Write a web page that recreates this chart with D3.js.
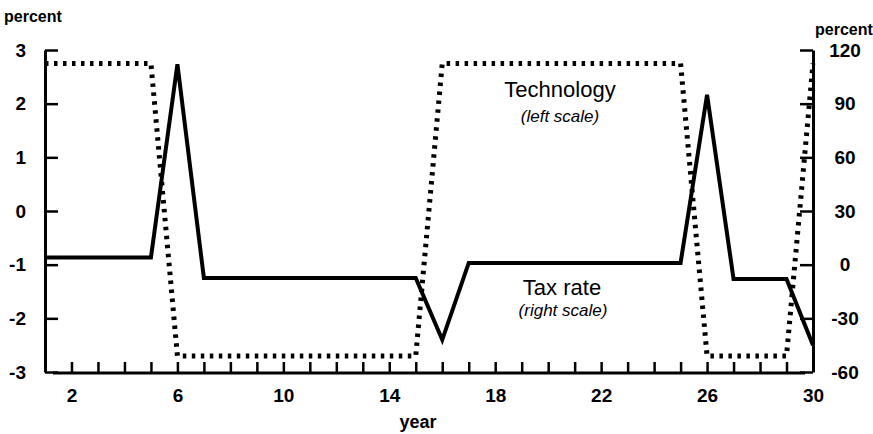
<!DOCTYPE html>
<html>
<head>
<meta charset="utf-8">
<script src="https://cdn.jsdelivr.net/npm/d3@7"></script>
<style>
  body { margin: 0; background: #fff; }
  text { font-family: "Liberation Sans", Arial, sans-serif; fill: #000; }
</style>
</head>
<body>
<svg></svg>
<script>
// Data
const years = [1, 2, 3, 4, 5, 6, 7, 8, 9, 10, 11, 12, 13, 14, 15,
  16, 17, 18, 19, 20, 21, 22, 23, 24, 25, 26, 27, 28, 29, 30];
// technology shock, percent (left scale)
const technology = [2.75, 2.75, 2.75, 2.75, 2.75,
  -2.7, -2.7, -2.7, -2.7, -2.7, -2.7, -2.7, -2.7, -2.7, -2.7,
  2.75, 2.75, 2.75, 2.75, 2.75, 2.75, 2.75, 2.75, 2.75, 2.75,
  -2.7, -2.7, -2.7, -2.7, 2.75];
// tax rate, percent (right scale)
const taxRate = [4, 4, 4, 4, 4, 112,
  -7.5, -7.5, -7.5, -7.5, -7.5, -7.5, -7.5, -7.5, -7.5,
  -42, 1, 1, 1, 1, 1, 1, 1, 1, 1, 95, -8, -8, -8, -45];
const leftTicks = [-3, -2, -1, 0, 1, 2, 3];
const rightTicks = [-60, -30, 0, 30, 60, 90, 120];
const yearTicks = [2, 3, 4, 5, 6, 7, 8, 9, 10, 11, 12, 13, 14, 15,
  16, 17, 18, 19, 20, 21, 22, 23, 24, 25, 26, 27, 28, 29];
const yearLabels = [2, 6, 10, 14, 18, 22, 26, 30];

function chart() {
  const width = 873;
  const height = 434;

  const svg = d3.select('svg')
    .attr('width', width)
    .attr('height', height);

  // plain hyphen for negatives, like the original
  const fmt = function (d) { return String(d); };

  // Scales
  const x = d3.scaleLinear().domain([1, 30]).range([45, 813]);
  const yL = d3.scaleLinear().domain([-3, 3]).range([372, 50]);
  const yR = d3.scaleLinear().domain([-60, 120]).range([372, 50]);

  // Left axis, ticks point inward
  const left = svg.append('g')
    .attr('transform', `translate(${x(1)},0)`)
    .call(d3.axisLeft(yL).tickValues(leftTicks).tickFormat(fmt)
      .tickSize(-13).tickSizeOuter(0).tickPadding(19));

  // Right axis
  const right = svg.append('g')
    .attr('transform', `translate(${x(30)},0)`)
    .call(d3.axisRight(yR).tickValues(rightTicks).tickFormat(fmt)
      .tickSize(-13).tickSizeOuter(0).tickPadding(32));
  right.selectAll('text').attr('text-anchor', 'middle');

  // Bottom axis: small ticks every year, labels every 4 years
  const bottom = svg.append('g')
    .attr('transform', `translate(0,${yL(-3) + 1})`)
    .call(d3.axisBottom(x).tickValues(yearTicks).tickSize(-11).tickSizeOuter(0).tickFormat(''));
  bottom.select('.domain').attr('d', `M${x(1) + 8},0H${x(29.7)}`);

  const bottomLabels = svg.append('g')
    .attr('transform', `translate(0,${yL(-3) + 1})`)
    .call(d3.axisBottom(x).tickValues(yearLabels).tickFormat(fmt).tickSize(0).tickPadding(16));
  bottomLabels.select('.domain').remove();

  [left, right, bottom, bottomLabels].forEach(function (g) {
    g.selectAll('.domain').attr('stroke', '#000').attr('stroke-width', 3);
    g.selectAll('.tick line').attr('stroke', '#000').attr('stroke-width', 2.5);
    g.selectAll('text')
      .style('font-size', '19px')
      .style('font-weight', 'bold')
      .attr('fill', '#000');
  });

  // Lines
  const techLine = d3.line()
    .x(function (d, i) { return x(years[i]); })
    .y(function (d) { return yL(d); });
  const taxLine = d3.line()
    .x(function (d, i) { return x(years[i]); })
    .y(function (d) { return yR(d); });

  svg.append('path')
    .datum(technology)
    .attr('d', techLine)
    .attr('fill', 'none')
    .attr('stroke', '#000')
    .attr('stroke-width', 5)
    .attr('stroke-dasharray', '3.5,5.5');

  svg.append('path')
    .datum(taxRate)
    .attr('d', taxLine)
    .attr('fill', 'none')
    .attr('stroke', '#000')
    .attr('stroke-width', 4)
    .attr('stroke-linejoin', 'miter');

  // Titles
  svg.append('text').attr('x', 4).attr('y', 22)
    .style('font-size', '16px').style('font-weight', 'bold').text('percent');
  svg.append('text').attr('x', 815).attr('y', 35)
    .style('font-size', '16px').style('font-weight', 'bold').text('percent');
  svg.append('text').attr('x', 418).attr('y', 428).attr('text-anchor', 'middle')
    .style('font-size', '18px').style('font-weight', 'bold').text('year');

  // Annotations
  svg.append('text').attr('x', 560).attr('y', 97).attr('text-anchor', 'middle')
    .style('font-size', '22px').text('Technology');
  svg.append('text').attr('x', 560).attr('y', 122).attr('text-anchor', 'middle')
    .style('font-size', '17px').style('font-style', 'italic').text('(left scale)');
  svg.append('text').attr('x', 562).attr('y', 295).attr('text-anchor', 'middle')
    .style('font-size', '22px').text('Tax rate');
  svg.append('text').attr('x', 563).attr('y', 316).attr('text-anchor', 'middle')
    .style('font-size', '17px').style('font-style', 'italic').text('(right scale)');
}

chart();
</script>
</body>
</html>
